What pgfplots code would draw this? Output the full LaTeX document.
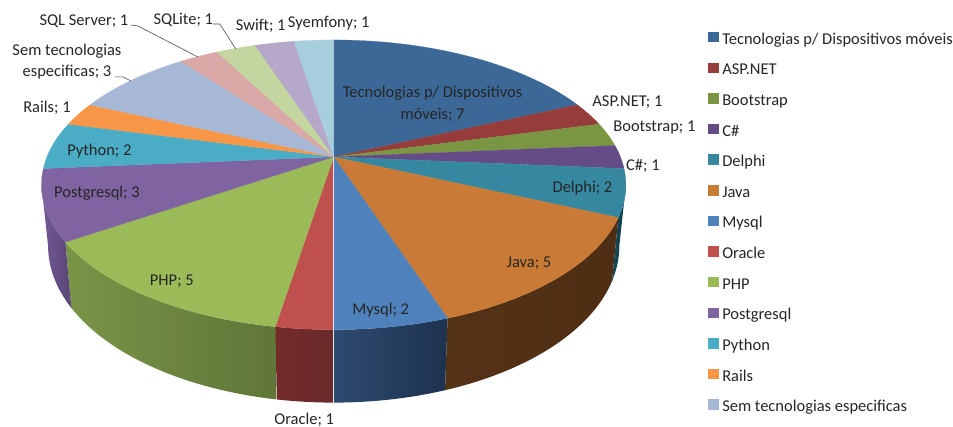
\documentclass[border=0pt]{standalone}
\usepackage{fontspec}
\setmainfont{Carlito}
\usepackage{pgfplots}
\usepackage{pgfplotstable}
\pgfplotsset{compat=1.18}
% slice values (in chart order), total 38
\pgfplotstableread{
idx value
0 7
1 1
2 1
3 1
4 2
5 5
6 2
7 1
8 5
9 3
10 2
11 1
12 3
13 1
14 1
15 1
16 1
}\slices
\definecolor{top0}{RGB}{60,104,152}
\definecolor{top1}{RGB}{150,60,58}
\definecolor{top2}{RGB}{122,150,66}
\definecolor{top3}{RGB}{101,76,134}
\definecolor{top4}{RGB}{54,135,160}
\definecolor{top5}{RGB}{200,122,54}
\definecolor{top6}{RGB}{79,129,189}
\definecolor{top7}{RGB}{192,80,77}
\definecolor{top8}{RGB}{155,187,89}
\definecolor{top9}{RGB}{128,100,162}
\definecolor{top10}{RGB}{75,172,198}
\definecolor{top11}{RGB}{247,150,70}
\definecolor{top12}{RGB}{167,184,215}
\definecolor{top13}{RGB}{217,168,167}
\definecolor{top14}{RGB}{196,214,160}
\definecolor{top15}{RGB}{181,168,200}
\definecolor{top16}{RGB}{166,206,221}
% wall shades (left / right)
\definecolor{wl4}{RGB}{20,72,88}\definecolor{wr4}{RGB}{16,60,74}
\definecolor{wl5}{RGB}{84,50,22}\definecolor{wr5}{RGB}{78,46,20}
\definecolor{wl6}{RGB}{46,74,112}\definecolor{wr6}{RGB}{30,50,78}
\definecolor{wl7}{RGB}{114,42,42}\definecolor{wr7}{RGB}{106,42,42}
\definecolor{wl8}{RGB}{122,148,72}\definecolor{wr8}{RGB}{95,118,56}
\definecolor{wl9}{RGB}{115,90,150}\definecolor{wr9}{RGB}{88,68,118}
\newcommand\ptop[1]{%
  \pgfmathsetmacro\pw{1+0.193*cos(#1)}%
  \pgfmathsetmacro\px{334+287*sin(#1)/\pw}%
  \pgfmathsetmacro\py{157-139.6*cos(#1)/\pw}%
}
\newcommand\pbot[1]{%
  \ptop{#1}%
  \pgfmathsetmacro\qx{334+(\px-334)*0.9775}%
  \pgfmathsetmacro\qy{\py+66+0.0814*(\py-244)}%
}
\tikzset{lab/.style={font=\fontsize{16.5}{21.5}\selectfont,text=black!85,inner sep=0pt,align=center}}
\begin{document}
\begin{tikzpicture}
\begin{axis}[
  scale only axis, width=953pt, height=427pt,
  xmin=0, xmax=953, ymin=0, ymax=427, y dir=reverse,
  axis lines=none, ticks=none, clip=false,
  legend cell align=left,
  legend style={at={(axis cs:709,32)},anchor=north west,draw=none,fill=none,
    inner sep=0pt,outer sep=0pt,row sep=15.45pt,
    /tikz/every odd column/.append style={column sep=4pt},
    font=\fontsize{16.5}{19}\selectfont,text=black!85,
    nodes={inner sep=0pt,text height=10pt,text depth=3pt}},
  legend image code/.code={\fill[#1] (0pt,-1pt) rectangle (9.5pt,8.5pt);},
]
\path (axis cs:0,0) rectangle (axis cs:953,427);
% walls (visible part only: between the two silhouette angles 101 and 259)
\gdef\cum{0}
\pgfplotsforeachungrouped \i in {0,...,16}{%
  \pgfplotstablegetelem{\i}{value}\of\slices
  \let\val\pgfplotsretval
  \pgfmathsetmacro\ta{max(\cum*360/38,101)}%
  \pgfmathsetmacro\tb{min((\cum+\val)*360/38,259)}%
  \pgfmathtruncatemacro\steps{\val*6}%
  \pgfmathtruncatemacro\iswall{(\i>3)&&(\i<10)}%
  \ifnum\iswall=1
    \gdef\cl{}%
    \pgfplotsforeachungrouped \k in {0,...,\steps}{%
      \pgfmathsetmacro\t{\ta+(\tb-\ta)*\k/\steps}%
      \ptop{\t}\xdef\cl{\cl(\px,\py)}%
    }%
    \pgfplotsforeachungrouped \k in {\steps,...,0}{%
      \pgfmathsetmacro\t{\ta+(\tb-\ta)*\k/\steps}%
      \pbot{\t}\xdef\cl{\cl(\qx,\qy)}%
    }%
    \edef\cmd{\noexpand\addplot[forget plot,draw=none,left color=wl\i,right color=wr\i] coordinates {\cl} --cycle;}\cmd
  \fi
  \pgfmathsetmacro\newcum{\cum+\val}\xdef\cum{\newcum}%
}
% top faces
\gdef\cum{0}
\pgfplotsforeachungrouped \i in {0,...,16}{%
  \pgfplotstablegetelem{\i}{value}\of\slices
  \let\val\pgfplotsretval
  \pgfmathsetmacro\ta{\cum*360/38}%
  \pgfmathsetmacro\tb{(\cum+\val)*360/38}%
  \pgfmathtruncatemacro\steps{\val*6}%
  \gdef\cl{(334,157)}%
  \pgfplotsforeachungrouped \k in {0,...,\steps}{%
    \pgfmathsetmacro\t{\ta+(\tb-\ta)*\k/\steps}%
    \ptop{\t}\xdef\cl{\cl(\px,\py)}%
  }%
  \edef\cmd{\noexpand\addplot[forget plot,fill=top\i,draw=top\i,line width=0.2pt] coordinates {\cl} --cycle;}\cmd
  \pgfmathsetmacro\newcum{\cum+\val}\xdef\cum{\newcum}%
}
% seam between Mysql and Oracle
\addplot[forget plot,color=white!80!gray,line width=0.5pt] coordinates {(334,157)(334,403)};
% leader lines
\addplot[forget plot,color=black!70,line width=0.6pt] coordinates {(131,25)(138,26)(198,57)};
\addplot[forget plot,color=black!70,line width=0.6pt] coordinates {(213,24)(220,24)(236,49)};
\addplot[forget plot,color=black!70,line width=0.6pt] coordinates {(115,77)(123,77)(131,81)};
% labels
\node[lab] at (axis cs:84,21) {SQL Server; 1};
\node[lab] at (axis cs:183.5,20) {SQLite; 1};
\node[lab] at (axis cs:261,26) {Swift; 1};
\node[lab] at (axis cs:329,23) {Syemfony; 1};
\node[lab] at (axis cs:67,61.5) {Sem tecnologias\\especificas; 3};
\node[lab] at (axis cs:47,108) {Rails; 1};
\node[lab] at (axis cs:99.5,151) {Python; 2};
\node[lab] at (axis cs:97,193) {Postgresql; 3};
\node[lab] at (axis cs:172,282) {PHP; 5};
\node[lab] at (axis cs:304.5,420) {Oracle; 1};
\node[lab] at (axis cs:381,310) {Mysql; 2};
\node[lab] at (axis cs:529.5,264) {Java; 5};
\node[lab] at (axis cs:583,188) {Delphi; 2};
\node[lab] at (axis cs:643.5,166) {C\#; 1};
\node[lab] at (axis cs:655,128) {Bootstrap; 1};
\node[lab] at (axis cs:628,102) {ASP.NET; 1};
\node[lab] at (axis cs:433,104) {Tecnologias p/ Dispositivos\\móveis; 7};
% legend
\addlegendimage{top0}\addlegendentry{Tecnologias p/ Dispositivos móveis}
\addlegendimage{top1}\addlegendentry{ASP.NET}
\addlegendimage{top2}\addlegendentry{Bootstrap}
\addlegendimage{top3}\addlegendentry{C\#}
\addlegendimage{top4}\addlegendentry{Delphi}
\addlegendimage{top5}\addlegendentry{Java}
\addlegendimage{top6}\addlegendentry{Mysql}
\addlegendimage{top7}\addlegendentry{Oracle}
\addlegendimage{top8}\addlegendentry{PHP}
\addlegendimage{top9}\addlegendentry{Postgresql}
\addlegendimage{top10}\addlegendentry{Python}
\addlegendimage{top11}\addlegendentry{Rails}
\addlegendimage{top12}\addlegendentry{Sem tecnologias especificas}
\end{axis}
\end{tikzpicture}
\end{document}
